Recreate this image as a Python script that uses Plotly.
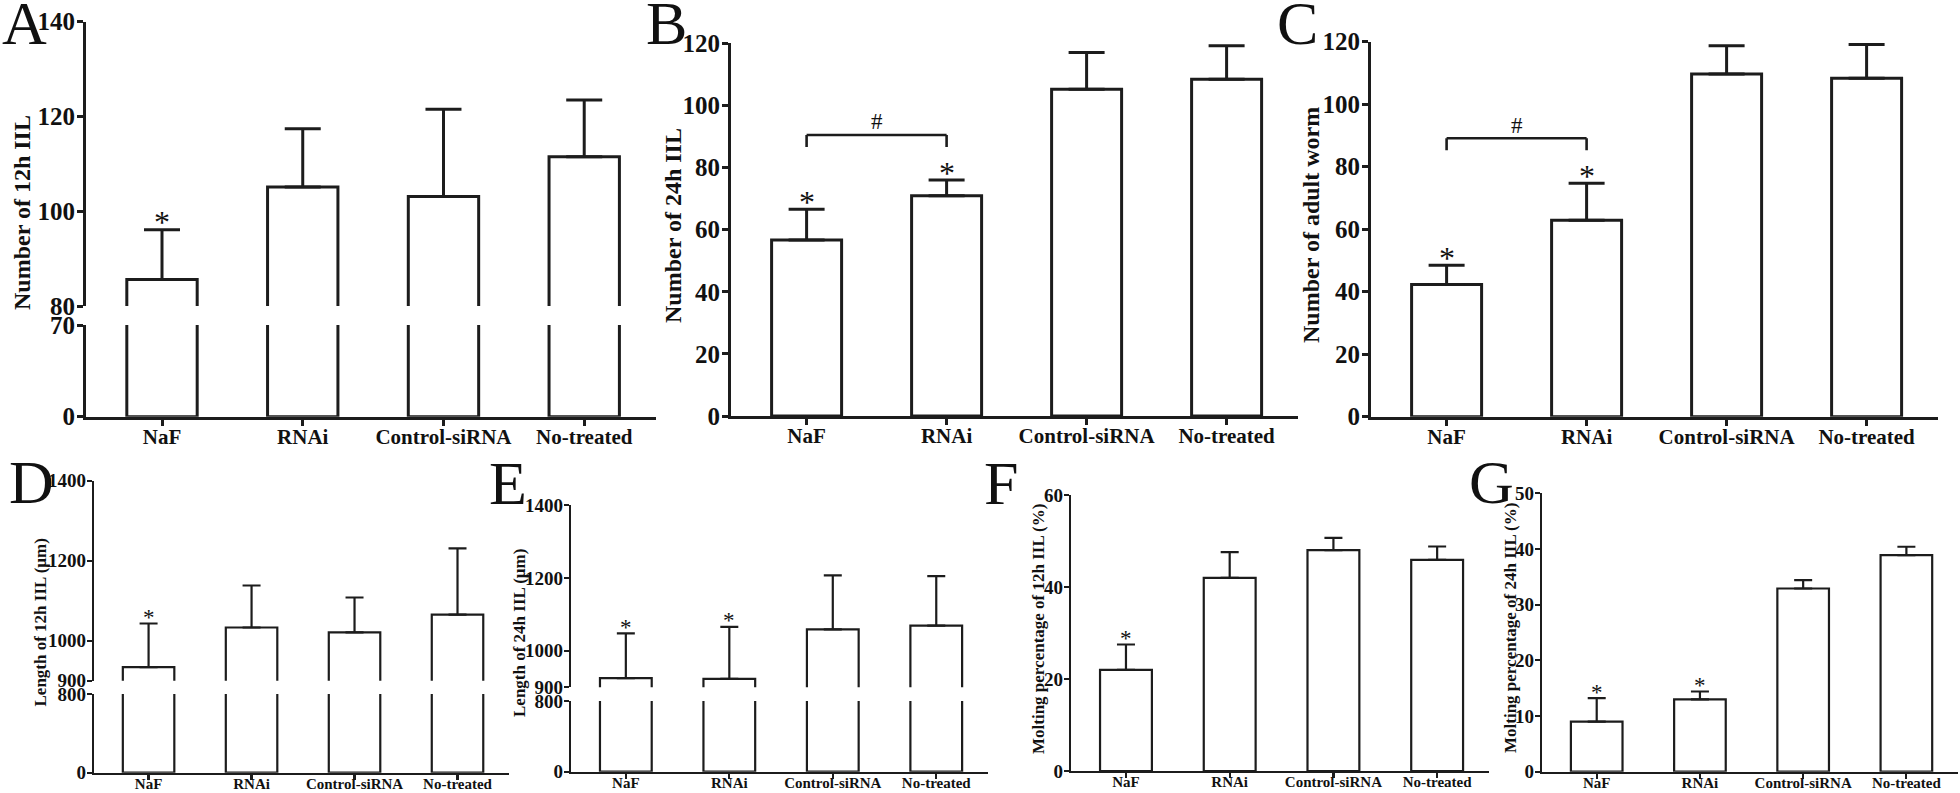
import plotly.graph_objects as go

# ---------------- data ----------------
categories = ["NaF", "RNAi", "Control-siRNA", "No-treated"]

# A: Number of 12h IIL
a_mean = [85.6, 105.1, 103.1, 111.5]
a_sd = [10.5, 12.3, 18.4, 12.0]
a_sig = ["NaF"]
# B: Number of 24h IIL
b_mean = [56.7, 70.9, 105.2, 108.4]
b_sd = [9.9, 5.1, 11.8, 10.8]
b_sig = ["NaF", "RNAi"]
b_pair = ["NaF", "RNAi"]
# C: Number of adult worm
c_mean = [42.3, 62.9, 109.7, 108.3]
c_sd = [6.2, 11.8, 9.0, 10.8]
c_sig = ["NaF", "RNAi"]
c_pair = ["NaF", "RNAi"]
# D: Length of 12h IIL (um)
d_mean = [934, 1033, 1021, 1065]
d_sd = [109, 105, 87, 166]
d_sig = ["NaF"]
# E: Length of 24h IIL (um)
e_mean = [925, 923, 1059, 1069]
e_sd = [123, 143, 148, 136]
e_sig = ["NaF", "RNAi"]
# F: Molting percentage of 12h IIL
f_mean = [22.0, 42.0, 48.0, 45.9]
f_sd = [5.5, 5.6, 2.7, 2.9]
f_sig = ["NaF"]
# G: Molting percentage of 24h IIL
g_mean = [9.0, 13.0, 32.9, 38.9]
g_sd = [4.2, 1.4, 1.5, 1.5]
g_sig = ["NaF", "RNAi"]

# axis ranges / tick values
a_low_range, a_low_ticks = [0, 70], [0, 70]
a_high_range, a_high_ticks = [80, 140], [80, 100, 120, 140]
b_range, b_ticks = [0, 120], [0, 20, 40, 60, 80, 100, 120]
c_range, c_ticks = [0, 120], [0, 20, 40, 60, 80, 100, 120]
d_low_range, d_low_ticks = [0, 800], [0, 800]
d_high_range, d_high_ticks = [900, 1400], [900, 1000, 1200, 1400]
e_low_range, e_low_ticks = [0, 800], [0, 800]
e_high_range, e_high_ticks = [900, 1400], [900, 1000, 1200, 1400]
f_range, f_ticks = [0, 60], [0, 20, 40, 60]
g_range, g_ticks = [0, 50], [0, 10, 20, 30, 40, 50]

titles = {
    "A": "Number of 12h IIL",
    "B": "Number of 24h IIL",
    "C": "Number of adult worm",
    "D": "Length of 12h IIL (\u03bcm)",
    "E": "Length of 24h IIL (\u03bcm)",
    "F": "Molting percentage of 12h IIL (%)",
    "G": "Molting percentage of 24h IIL (%)",
}

# ---------------- layout / style ----------------
W, H = 1960, 793
FONT = "Liberation Serif, Times New Roman, serif"
LC = "#1c1c1c"
TC = "#111111"

styles = {
    0: dict(lw=3, tick=25, xtick=21, title=24, star=32, gap=13, cap=18, ticklen=6,
            xr=[-0.54, 3.51], xstand=-7),
    1: dict(lw=2.2, tick=19, xtick=15, title=17, star=23, gap=10, cap=9, ticklen=5,
            xr=[-0.53, 3.5], xstand=-9),
}

panels = [
    dict(letter="A", row=0, mean=a_mean, sd=a_sd, sig=a_sig, pair=None, xdom=(86, 656),
         segs=[(a_low_range, a_low_ticks, (416.7, 325.0)), (a_high_range, a_high_ticks, (306.0, 21.7))],
         lpos=(0, 23), tpos=(22, 213)),
    dict(letter="B", row=0, mean=b_mean, sd=b_sd, sig=b_sig, pair=b_pair, xdom=(731, 1298),
         segs=[(b_range, b_ticks, (416.0, 43.3))], lpos=(644, 23), tpos=(673, 226)),
    dict(letter="C", row=0, mean=c_mean, sd=c_sd, sig=c_sig, pair=c_pair, xdom=(1371, 1938),
         segs=[(c_range, c_ticks, (416.7, 41.7))], lpos=(1275, 23.5), tpos=(1311, 225)),
    dict(letter="D", row=1, mean=d_mean, sd=d_sd, sig=d_sig, pair=None, xdom=(94, 509),
         segs=[(d_low_range, d_low_ticks, (772.7, 694.0)), (d_high_range, d_high_ticks, (680.7, 480.7))],
         lpos=(7, 482), tpos=(40, 622.5)),
    dict(letter="E", row=1, mean=e_mean, sd=e_sd, sig=e_sig, pair=None, xdom=(571, 988),
         segs=[(e_low_range, e_low_ticks, (771.7, 701.0)), (e_high_range, e_high_ticks, (687.3, 505.0))],
         lpos=(487, 483), tpos=(519, 633)),
    dict(letter="F", row=1, mean=f_mean, sd=f_sd, sig=f_sig, pair=None, xdom=(1071, 1489),
         segs=[(f_range, f_ticks, (771.0, 495.0))], lpos=(982, 483), tpos=(1038, 629)),
    dict(letter="G", row=1, mean=g_mean, sd=g_sd, sig=g_sig, pair=None, xdom=(1542, 1958),
         segs=[(g_range, g_ticks, (771.7, 493.3))], lpos=(1467, 482), tpos=(1510, 628)),
]

fig = go.Figure()
lay = dict(width=W, height=H, autosize=False,
           margin=dict(l=0, r=0, t=0, b=0, pad=0, autoexpand=False),
           paper_bgcolor="white", plot_bgcolor="rgba(0,0,0,0)", showlegend=False,
           font=dict(family=FONT, color=TC))
annotations = []
shapes = []

xi = 0
yi = 0
for p in panels:
    st = styles[p["row"]]
    xi += 1
    xname = "x" if xi == 1 else f"x{xi}"
    xkey = "xaxis" if xi == 1 else f"xaxis{xi}"
    ynames = []
    nseg = len(p["segs"])
    for k, (rng, tv, (pb, pt)) in enumerate(p["segs"]):
        yi += 1
        yname = "y" if yi == 1 else f"y{yi}"
        ykey = "yaxis" if yi == 1 else f"yaxis{yi}"
        lay[ykey] = dict(domain=[1 - pb / H, 1 - pt / H], range=rng, anchor=xname,
                         automargin=False,
                         showline=True, linewidth=st["lw"], linecolor=LC,
                         ticks="outside", ticklen=st["ticklen"], tickwidth=st["lw"], tickcolor=LC,
                         tickmode="array", tickvals=tv, ticktext=[str(v) for v in tv],
                         ticklabelstandoff=-3,
                         tickfont=dict(family=FONT, size=st["tick"], weight="bold", color=TC),
                         showgrid=False, zeroline=False, fixedrange=True)
        last = (k == nseg - 1)
        fig.add_trace(go.Bar(
            x=categories, y=p["mean"], xaxis=xname, yaxis=yname, width=0.5,
            marker=dict(color="white", line=dict(color=LC, width=st["lw"])),
            error_y=dict(type="data", symmetric=False, array=p["sd"], arrayminus=[0] * len(p["sd"]),
                         color=LC, thickness=st["lw"], width=st["cap"], visible=last),
            hoverinfo="skip"))
        ynames.append(yname)
    top_y = ynames[-1]
    lay[xkey] = dict(domain=[p["xdom"][0] / W, p["xdom"][1] / W], anchor=ynames[0],
                     automargin=False,
                     type="category", range=st["xr"], showline=True, linewidth=st["lw"],
                     linecolor=LC, ticks="outside", ticklen=st["ticklen"], tickwidth=st["lw"],
                     tickcolor=LC, ticklabelstandoff=st["xstand"],
                     tickfont=dict(family=FONT, size=st["xtick"], weight="bold", color=TC),
                     showgrid=False, zeroline=False, fixedrange=True)

    # significance asterisks
    for cat in p["sig"]:
        i = categories.index(cat)
        annotations.append(dict(x=i, y=p["mean"][i] + p["sd"][i], xref=xname, yref=top_y,
                                text="*", showarrow=False, xanchor="center", yanchor="middle",
                                yshift=st["gap"] - 0.18 * st["star"],
                                font=dict(family=FONT, size=st["star"], color=TC)))
    # bracket with '#'
    if p["pair"]:
        i0 = categories.index(p["pair"][0])
        i1 = categories.index(p["pair"][1])
        anchor = max(p["mean"][i0] + p["sd"][i0], p["mean"][i1] + p["sd"][i1])
        for (xa, xb, ya, yb) in [(i0, i1, 45, 45), (i0, i0, 33, 45), (i1, i1, 33, 45)]:
            shapes.append(dict(type="line", xref=xname, yref=top_y, ysizemode="pixel",
                               yanchor=anchor, x0=xa, x1=xb, y0=ya, y1=yb,
                               line=dict(color=LC, width=2.6)))
        annotations.append(dict(x=(i0 + i1) / 2, y=anchor, xref=xname, yref=top_y, text="#",
                                showarrow=False, xanchor="center", yanchor="middle", yshift=58,
                                font=dict(family=FONT, size=23, color=TC)))

    # panel letter
    annotations.append(dict(x=p["lpos"][0] / W, y=1 - p["lpos"][1] / H, xref="paper", yref="paper",
                            text=p["letter"], showarrow=False, xanchor="left", yanchor="middle",
                            font=dict(family=FONT, size=62, color=TC)))
    # y axis title
    annotations.append(dict(x=p["tpos"][0] / W, y=1 - p["tpos"][1] / H, xref="paper", yref="paper",
                            text=titles[p["letter"]], showarrow=False, textangle=-90,
                            xanchor="center", yanchor="middle",
                            font=dict(family=FONT, size=st["title"], weight="bold", color=TC)))

lay["annotations"] = annotations
lay["shapes"] = shapes
fig.update_layout(**lay)
fig.write_html("out.html", config={"displayModeBar": False, "staticPlot": True},
               post_script="document.body.style.margin='0';document.body.style.overflow='hidden';")
